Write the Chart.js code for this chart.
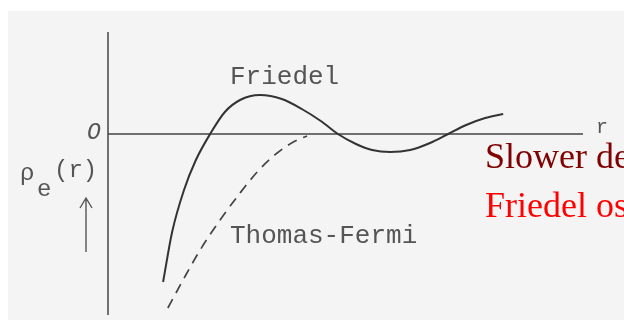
<!DOCTYPE html>
<html>
<head>
<meta charset="utf-8">
<script src="https://cdn.jsdelivr.net/npm/chart.js@4"></script>
<style>
  html, body { margin: 0; padding: 0; background: #fff; }
  #wrap { width: 624px; height: 320px; position: relative; }
</style>
</head>
<body>
<div id="wrap"><canvas id="rho"></canvas></div>
<script>
// Friedel oscillations vs. Thomas-Fermi screening
const friedelR   = [1.16, 1.35, 1.60, 1.85, 2.15, 2.46, 2.78, 3.20, 3.66, 4.08, 4.48, 4.84, 5.22, 5.56, 5.94, 6.36, 6.78, 7.16, 7.54, 7.94, 8.32];
const friedelRho = [-2.96, -1.96, -1.12, -0.52, 0, 0.44, 0.68, 0.78, 0.70, 0.50, 0.26, 0, -0.20, -0.32, -0.36, -0.32, -0.18, 0, 0.18, 0.32, 0.40];

const tfR   = [1.26, 1.58, 1.94, 2.36, 2.78, 3.16, 3.56, 3.94, 4.19];
const tfRho = [-3.48, -2.92, -2.32, -1.72, -1.18, -0.74, -0.38, -0.14, -0.04];

const curveLabels = ['Friedel', 'Thomas-Fermi'];
const noteLines = ['Slower de', 'Friedel os'];

const toPoints = (xs, ys) => xs.map((x, i) => ({ x: x, y: ys[i] }));

// paper background, hand-drawn axes and labels
const sketch = {
  id: 'sketch',
  beforeDraw(chart) {
    const { ctx } = chart;
    ctx.save();
    ctx.fillStyle = '#f4f4f4';
    ctx.fillRect(8, 11, 616, 309);
    ctx.restore();
  },
  beforeDatasetsDraw(chart) {
    const { ctx, scales: { x, y }, chartArea } = chart;
    const x0 = x.getPixelForValue(0);
    const y0 = y.getPixelForValue(0);
    ctx.save();
    ctx.strokeStyle = '#444';
    ctx.lineWidth = 1.5;
    ctx.beginPath();
    ctx.moveTo(x0, chartArea.top);
    ctx.lineTo(x0, chartArea.bottom);
    ctx.moveTo(x0, y0);
    ctx.lineTo(x.getPixelForValue(10), y0);
    ctx.stroke();

    // arrow next to the axis title
    ctx.strokeStyle = '#555';
    ctx.lineWidth = 1.4;
    ctx.beginPath();
    ctx.moveTo(86, 252);
    ctx.lineTo(86, 198);
    ctx.moveTo(80, 208);
    ctx.lineTo(86, 198);
    ctx.lineTo(92, 208);
    ctx.stroke();

    ctx.fillStyle = '#555';
    ctx.textBaseline = 'middle';
    ctx.font = 'italic 23px "Liberation Mono"';
    ctx.textAlign = 'center';
    ctx.fillText('O', 94, 133);

    ctx.font = '24px "Liberation Mono"';
    ctx.textAlign = 'left';
    ctx.fillText('\u03c1', 20, 174);
    ctx.fillText('e', 37, 190);
    ctx.fillText('(r)', 54, 171);
    ctx.font = '20px "Liberation Mono"';
    ctx.fillText('r', 596, 128);

    ctx.font = '26px "Liberation Mono"';
    ctx.fillText(curveLabels[0], 230, 77);
    ctx.fillText(curveLabels[1], 230, 236);

    ctx.font = '36px "Liberation Serif"';
    ctx.textBaseline = 'alphabetic';
    ctx.fillStyle = '#800000';
    ctx.fillText(noteLines[0], 485, 168);
    ctx.fillStyle = '#ff0000';
    ctx.fillText(noteLines[1], 485, 217);
    ctx.restore();
  }
};

new Chart(document.getElementById('rho'), {
  type: 'scatter',
  plugins: [sketch],
  data: {
    datasets: [
      {
        label: curveLabels[0],
        data: toPoints(friedelR, friedelRho),
        showLine: true,
        borderColor: '#333',
        borderWidth: 2,
        pointRadius: 0,
        cubicInterpolationMode: 'monotone'
      },
      {
        label: curveLabels[1],
        data: toPoints(tfR, tfRho),
        showLine: true,
        borderColor: '#444',
        borderWidth: 1.7,
        borderDash: [10, 7],
        pointRadius: 0,
        cubicInterpolationMode: 'monotone'
      }
    ]
  },
  options: {
    responsive: true,
    maintainAspectRatio: false,
    animation: false,
    layout: { padding: { left: 108, right: 41, top: 32, bottom: 5 } },
    scales: {
      x: { type: 'linear', min: 0, max: 10, display: false },
      y: { type: 'linear', min: -3.62, max: 2.04, display: false }
    },
    plugins: {
      legend: { display: false },
      tooltip: { enabled: false }
    }
  }
});
</script>
</body>
</html>
